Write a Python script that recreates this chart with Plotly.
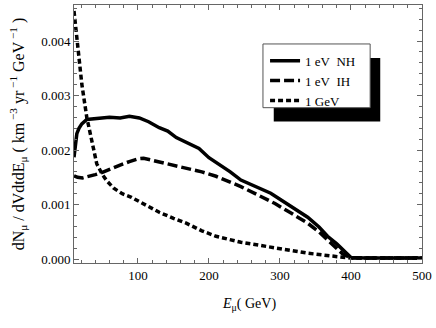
import plotly.graph_objects as go

# muon energy (GeV) and differential rates (km^-3 yr^-1 GeV^-1)
nh_x = [10, 12, 14, 17, 21, 28, 35, 46, 60, 75, 88, 102, 115, 130, 142, 154, 170, 186, 200,
        214, 230, 245, 265, 287, 300, 320, 339, 355, 367, 380, 392, 400, 420, 450, 500]
nh_y = [0.00187, 0.00215, 0.0023, 0.0024, 0.00248, 0.00256, 0.00257, 0.00259, 0.0026, 0.00259,
        0.00262, 0.00259, 0.00252, 0.00241, 0.00235, 0.00223, 0.00213, 0.00203, 0.00186,
        0.00174, 0.0016, 0.00145, 0.00133, 0.00121, 0.0011, 0.00093, 0.00077, 0.00059,
        0.00042, 0.00028, 0.00013, 0.00003, 0.00002, 0.00002, 0.00002]

ih_x = [10, 15, 22, 30, 40, 50, 62, 74, 88, 100, 108, 121, 140, 168, 190, 210, 230, 245,
        270, 293, 315, 339, 355, 367, 378, 388, 400, 450, 500]
ih_y = [0.00153, 0.0015, 0.00149, 0.00151, 0.00155, 0.00159, 0.00166, 0.00172, 0.00179,
        0.00184, 0.00185, 0.00181, 0.00176, 0.00168, 0.0016, 0.00152, 0.00142, 0.00133,
        0.00117, 0.00102, 0.00085, 0.00066, 0.0005, 0.00035, 0.00022, 0.0001, 0.00002,
        0.00002, 0.00002]

gev_x = [10, 13, 16, 21, 28, 37, 42, 50, 56, 66, 78, 90, 102, 115, 130, 150, 168, 190, 210,
         245, 293, 339, 385, 400, 450, 500]
gev_y = [0.00455, 0.0042, 0.00382, 0.00321, 0.0026, 0.002, 0.00175, 0.00155, 0.00144, 0.0013,
         0.0012, 0.00114, 0.00106, 0.00096, 0.00086, 0.00075, 0.00066, 0.00052, 0.00042,
         0.00031, 0.0002, 0.00011, 0.00004, 0.00002, 0.00002, 0.00002]

x_ticks = [100, 200, 300, 400, 500]
y_ticks = [0.0, 0.001, 0.002, 0.003, 0.004]

series = [
    ("1\u00a0eV\u00a0\u00a0NH", nh_x, nh_y, "solid"),
    ("1\u00a0eV\u00a0\u00a0IH", ih_x, ih_y, "10px,4px"),
    ("1\u00a0GeV", gev_x, gev_y, "5px,3px"),
]

fig = go.Figure()
for name, xs, ys, dash in series:
    fig.add_trace(go.Scatter(
        x=xs, y=ys, mode="lines", name=name,
        line=dict(color="black", width=3.5, dash=dash),
    ))

font = dict(family="Liberation Serif", size=13, color="black")

axis_common = dict(
    showline=True, linecolor="#666", linewidth=1, mirror="allticks",
    ticks="inside", ticklen=5, tickcolor="#666",
    showgrid=False, zeroline=False,
)

fig.update_layout(
    width=436, height=328,
    margin=dict(l=74, r=12, t=4, b=65),
    plot_bgcolor="white", paper_bgcolor="white",
    font=font,
    showlegend=True,
    legend=dict(
        x=0.549, y=0.842, xanchor="left", yanchor="top",
        bgcolor="rgba(0,0,0,0)", borderwidth=0,
        font=font, tracegroupgap=0,
    ),
    xaxis=dict(
        range=[10, 500], tickvals=x_ticks,
        minor=dict(dtick=20, tick0=0, ticks="inside", ticklen=3, tickcolor="#666"),
        **axis_common,
    ),
    yaxis=dict(
        range=[-0.00007, 0.00466], tickvals=y_ticks, tickformat=".3f",
        minor=dict(dtick=0.0002, tick0=0, ticks="inside", ticklen=3, tickcolor="#666"),
        **axis_common,
    ),
    shapes=[
        dict(type="rect", xref="paper", yref="paper",
             x0=0.574, x1=0.88, y0=0.548, y1=0.795,
             fillcolor="black", line=dict(width=0)),
        dict(type="rect", xref="paper", yref="paper",
             x0=0.543, x1=0.851, y0=0.602, y1=0.849,
             fillcolor="white", line=dict(color="#555", width=1)),
    ],
    annotations=[
        dict(text="dN<sub>μ</sub> / dVdtdE<sub>μ</sub> ( km<sup> −3</sup> yr<sup> −1</sup> GeV<sup> −1</sup> )",
             xref="paper", yref="paper", x=-0.16, y=0.5, textangle=-90,
             xanchor="center", yanchor="middle", showarrow=False,
             font=dict(family="Liberation Serif", size=16, color="black")),
        dict(text="<i>E</i><sub>μ</sub>( GeV)",
             xref="paper", yref="paper", x=0.503, y=-0.162,
             xanchor="center", yanchor="middle", showarrow=False,
             font=dict(family="Liberation Serif", size=14, color="black")),
    ],
)

fig.write_html("out.html", config=dict(displayModeBar=False),
               post_script="document.body.style.margin='0';")
